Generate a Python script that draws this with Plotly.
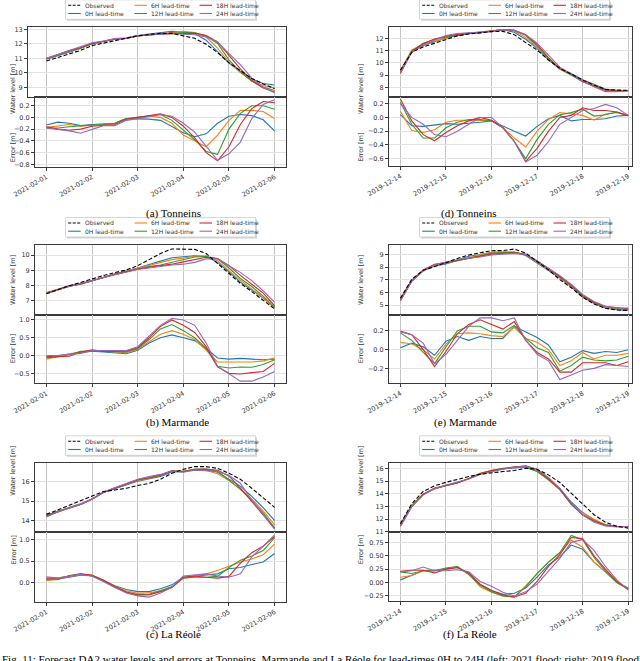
import numpy as np
import pandas as pd
import plotly.graph_objects as go

W, H = 640, 661

# 6-hourly forecast times for the two flood events
time_2021 = pd.date_range("2021-02-01", "2021-02-06", freq="6h")
time_2019 = pd.date_range("2019-12-14", "2019-12-19", freq="6h")

lead_names = ["0H lead-time", "6H lead-time", "12H lead-time", "18H lead-time", "24H lead-time"]
lead_colors = ["#1f77b4", "#ff7f0e", "#2ca02c", "#d62728", "#9467bd"]

# (a) Tonneins 2021
obs_a = [10.82, 11.08, 11.32, 11.55, 11.88, 12.05, 12.22, 12.36, 12.55, 12.65, 12.72,
         12.72, 12.56, 12.38, 11.97, 11.40, 10.70, 10.15, 9.62, 9.23, 8.93]
err_a = [
    [-0.13, -0.08, -0.10, -0.14, -0.12, -0.11, -0.10, -0.02, -0.02, -0.03, -0.05, -0.15, -0.26, -0.33, -0.28, -0.10, 0.02, 0.05, 0.03, -0.04, -0.23],
    [-0.17, -0.15, -0.12, -0.15, -0.14, -0.12, -0.10, -0.03, 0.00, 0.02, 0.00, -0.10, -0.30, -0.40, -0.50, -0.30, -0.05, 0.12, 0.12, 0.10, -0.02],
    [-0.18, -0.18, -0.16, -0.14, -0.13, -0.12, -0.10, -0.02, 0.00, 0.03, 0.05, -0.05, -0.22, -0.38, -0.58, -0.63, -0.20, 0.07, 0.20, 0.20, 0.14],
    [-0.16, -0.20, -0.22, -0.20, -0.15, -0.13, -0.12, -0.03, 0.00, 0.04, 0.06, 0.00, -0.15, -0.35, -0.60, -0.74, -0.50, -0.12, 0.15, 0.27, 0.25],
    [-0.18, -0.20, -0.23, -0.27, -0.20, -0.14, -0.14, -0.05, -0.02, 0.02, 0.05, 0.02, -0.10, -0.25, -0.50, -0.73, -0.62, -0.42, -0.02, 0.22, 0.30],
]

# (b) Marmande 2021
obs_b = [7.45, 7.72, 7.98, 8.20, 8.45, 8.65, 8.85, 9.02, 9.30, 9.70, 10.10,
         10.40, 10.40, 10.37, 10.10, 9.45, 8.80, 8.14, 7.60, 7.05, 6.46]
err_b = [
    [-0.04, 0.00, 0.04, 0.10, 0.12, 0.10, 0.08, 0.05, 0.15, 0.35, 0.50, 0.58, 0.50, 0.42, 0.20, -0.07, -0.10, -0.08, -0.10, -0.12, -0.10],
    [-0.10, -0.02, 0.05, 0.10, 0.14, 0.12, 0.10, 0.08, 0.18, 0.40, 0.60, 0.70, 0.60, 0.45, 0.15, -0.18, -0.18, -0.20, -0.18, -0.15, -0.07],
    [-0.06, -0.04, 0.02, 0.12, 0.12, 0.12, 0.12, 0.10, 0.20, 0.45, 0.75, 0.87, 0.70, 0.50, 0.20, -0.30, -0.35, -0.32, -0.33, -0.25, -0.12],
    [-0.04, -0.03, -0.02, 0.10, 0.16, 0.12, 0.12, 0.12, 0.22, 0.50, 0.82, 1.00, 0.85, 0.65, 0.25, -0.32, -0.50, -0.52, -0.48, -0.45, -0.22],
    [0.00, 0.00, 0.03, 0.06, 0.14, 0.14, 0.14, 0.14, 0.25, 0.55, 0.85, 1.05, 1.00, 0.85, 0.35, -0.30, -0.50, -0.72, -0.72, -0.60, -0.45],
]

# (c) La Réole 2021
obs_c = [14.32, 14.55, 14.80, 15.03, 15.26, 15.49, 15.57, 15.66, 15.80, 15.91, 16.12,
         16.43, 16.63, 16.77, 16.77, 16.68, 16.43, 16.12, 15.66, 15.15, 14.68]
err_c = [
    [0.08, 0.08, 0.12, 0.17, 0.15, 0.05, -0.08, -0.17, -0.22, -0.22, -0.15, -0.06, 0.12, 0.15, 0.17, 0.20, 0.32, 0.35, 0.42, 0.48, 0.68],
    [0.04, 0.08, 0.14, 0.18, 0.16, 0.05, -0.10, -0.20, -0.26, -0.25, -0.20, -0.12, 0.10, 0.15, 0.20, 0.28, 0.38, 0.48, 0.55, 0.65, 0.90],
    [0.06, 0.06, 0.16, 0.20, 0.15, 0.03, -0.12, -0.23, -0.29, -0.28, -0.20, -0.10, 0.10, 0.12, 0.12, 0.14, 0.35, 0.52, 0.62, 0.75, 1.05],
    [0.10, 0.10, 0.15, 0.20, 0.17, 0.05, -0.10, -0.23, -0.30, -0.30, -0.22, -0.12, 0.12, 0.15, 0.12, 0.10, 0.14, 0.45, 0.70, 0.85, 1.08],
    [0.13, 0.10, 0.15, 0.19, 0.15, 0.02, -0.12, -0.25, -0.32, -0.35, -0.25, -0.12, 0.15, 0.18, 0.20, 0.15, 0.12, 0.20, 0.60, 0.85, 1.12],
]

# (d) Tonneins 2019
obs_d = [9.41, 10.86, 11.30, 11.60, 11.95, 12.20, 12.35, 12.45, 12.55, 12.57, 12.30,
         11.65, 11.05, 10.23, 9.55, 9.09, 8.60, 8.19, 7.84, 7.78, 7.76]
err_d = [
    [0.04, -0.12, -0.13, -0.11, -0.09, -0.10, -0.09, -0.07, -0.05, -0.13, -0.20, -0.27, -0.13, -0.02, 0.03, -0.05, -0.03, -0.03, -0.02, 0.02, 0.03],
    [0.09, -0.19, -0.22, -0.18, -0.07, -0.04, -0.04, -0.04, -0.05, -0.15, -0.30, -0.43, -0.20, -0.03, 0.07, 0.05, 0.03, -0.04, 0.05, 0.07, 0.03],
    [0.22, -0.10, -0.30, -0.30, -0.15, -0.07, -0.03, -0.03, -0.05, -0.15, -0.35, -0.60, -0.32, -0.10, 0.04, 0.07, 0.12, 0.02, 0.04, 0.08, 0.03],
    [0.27, -0.05, -0.25, -0.34, -0.22, -0.12, -0.05, 0.00, -0.04, -0.15, -0.35, -0.64, -0.45, -0.20, 0.00, 0.03, 0.14, 0.10, 0.10, 0.08, 0.02],
    [0.20, 0.00, -0.10, -0.25, -0.28, -0.20, -0.10, 0.00, 0.00, -0.15, -0.35, -0.65, -0.55, -0.35, -0.10, 0.00, 0.10, 0.13, 0.19, 0.14, 0.03],
]

# (e) Marmande 2019
obs_e = [5.53, 7.03, 7.74, 8.03, 8.34, 8.68, 8.95, 9.13, 9.29, 9.30, 9.42,
         9.10, 8.45, 7.78, 7.00, 6.36, 5.62, 5.08, 4.74, 4.60, 4.57]
err_e = [
    [0.02, 0.07, 0.03, -0.06, 0.09, 0.14, 0.10, 0.14, 0.12, 0.12, 0.25, 0.19, 0.13, 0.05, -0.13, -0.08, -0.01, -0.04, -0.02, -0.03, 0.00],
    [0.08, 0.06, 0.00, -0.10, 0.06, 0.17, 0.18, 0.17, 0.15, 0.14, 0.24, 0.12, 0.08, 0.00, -0.17, -0.12, -0.03, -0.10, -0.06, -0.06, -0.04],
    [0.18, 0.10, -0.03, -0.15, 0.03, 0.20, 0.25, 0.25, 0.19, 0.18, 0.26, 0.12, 0.02, -0.03, -0.23, -0.17, -0.08, -0.11, -0.12, -0.11, -0.07],
    [0.20, 0.16, 0.00, -0.18, -0.02, 0.17, 0.27, 0.32, 0.27, 0.22, 0.30, 0.10, -0.03, -0.10, -0.24, -0.24, -0.14, -0.14, -0.14, -0.17, -0.13],
    [0.19, 0.16, 0.07, -0.15, -0.05, 0.10, 0.25, 0.34, 0.34, 0.31, 0.34, 0.10, -0.05, -0.12, -0.32, -0.27, -0.22, -0.20, -0.16, -0.17, -0.18],
]

# (f) La Réole 2019
obs_f = [11.65, 13.21, 14.18, 14.62, 14.90, 15.14, 15.35, 15.53, 15.66, 15.74, 15.82,
         16.00, 15.92, 15.48, 14.88, 14.05, 13.14, 12.35, 11.76, 11.44, 11.30]
err_f = [
    [0.05, 0.14, 0.22, 0.22, 0.25, 0.28, 0.18, -0.04, -0.15, -0.22, -0.20, -0.10, 0.10, 0.33, 0.48, 0.70, 0.62, 0.38, 0.20, 0.01, -0.10],
    [0.10, 0.13, 0.22, 0.24, 0.25, 0.30, 0.16, -0.08, -0.18, -0.25, -0.27, -0.06, 0.16, 0.38, 0.55, 0.79, 0.66, 0.38, 0.20, 0.00, -0.12],
    [0.20, 0.17, 0.22, 0.22, 0.27, 0.30, 0.15, -0.05, -0.17, -0.25, -0.27, -0.08, 0.17, 0.38, 0.56, 0.88, 0.80, 0.47, 0.22, 0.00, -0.12],
    [0.21, 0.23, 0.23, 0.18, 0.25, 0.28, 0.18, -0.03, -0.15, -0.23, -0.27, -0.20, 0.02, 0.30, 0.52, 0.84, 0.82, 0.50, 0.25, 0.02, -0.13],
    [0.20, 0.22, 0.29, 0.22, 0.22, 0.24, 0.20, 0.02, -0.07, -0.18, -0.25, -0.17, -0.03, 0.20, 0.45, 0.75, 0.80, 0.60, 0.30, 0.05, -0.14],
]


def px(x):
    return x / W


def py(y):
    return 1 - y / H


# column geometry (pixels) and x ranges
LEFT = dict(x0=35, x1=286, xr=["2021-01-31 18:00", "2021-02-06 06:00"], tick0="2021-02-01",
            leg=65.5, ylab=7, cap=145)
RIGHT = dict(x0=389, x1=632, xr=["2019-12-13 18:00", "2019-12-19 02:00"], tick0="2019-12-14",
             leg=419.5, ylab=361, cap=498)

panels = [
    dict(cap="(a) Tonneins", t=time_2021, obs=obs_a, err=err_a, col=LEFT, top=27.3, mid=96.7, bot=166.7,
         wl=[8.36, 13.14], wl_dt=1, er=[-0.84, 0.353], er_dt=0.2, er_fmt=".1f", cap_y=206,
         up_x0=28, up_xr0="2021-01-31 14:20"),
    dict(cap="(d) Tonneins", t=time_2019, obs=obs_d, err=err_d, col=RIGHT, top=27.3, mid=96.7, bot=166,
         wl=[7.24, 12.9], wl_dt=1, er=[-0.707, 0.302], er_dt=0.2, er_fmt=".1f", cap_y=206),
    dict(cap="(b) Marmande", t=time_2021, obs=obs_b, err=err_b, col=LEFT, top=245, mid=315, bot=383.3,
         wl=[6.06, 10.66], wl_dt=1, er=[-0.78, 1.14], er_dt=0.5, er_fmt=".1f", cap_y=422),
    dict(cap="(e) Marmande", t=time_2019, obs=obs_e, err=err_e, col=RIGHT, top=245, mid=315, bot=383.3,
         wl=[4.21, 9.74], wl_dt=1, er=[-0.36, 0.371], er_dt=0.2, er_fmt=".1f", cap_y=422),
    dict(cap="(c) La Réole", t=time_2021, obs=obs_c, err=err_c, col=LEFT, top=463.3, mid=532.3, bot=601.7,
         wl=[13.4, 16.94], wl_dt=1, er=[-0.457, 1.18], er_dt=0.5, er_fmt=".1f", cap_y=642),
    dict(cap="(f) La Réole", t=time_2019, obs=obs_f, err=err_f, col=RIGHT, top=463.3, mid=532.3, bot=601,
         wl=[10.97, 16.39], wl_dt=1, er=[-0.344, 0.9375], er_dt=0.25, er_fmt=".2f", cap_y=642),
]

TICK_FONT = dict(family="DejaVu Sans", size=6.5, color="#333333")
AX = dict(showline=True, linecolor="#3a3a3a", linewidth=1, mirror=True, zeroline=False,
          automargin=False, tickfont=TICK_FONT, tickcolor="#3a3a3a")

fig = go.Figure()
layout_axes = {}
shapes = []
annotations = []

for k, p in enumerate(panels):
    col = p["col"]
    nu, nl = 2 * k + 1, 2 * k + 2
    xu = "x" if nu == 1 else f"x{nu}"
    yu = "y" if nu == 1 else f"y{nu}"
    xl, yl = f"x{nl}", f"y{nl}"
    obs = np.array(p["obs"])

    # water level (top): forecast = observed - error
    for name, color, e in zip(lead_names, lead_colors, p["err"]):
        fig.add_trace(go.Scatter(x=p["t"], y=obs - np.array(e), mode="lines", name=name,
                                 line=dict(color=color, width=1.1), xaxis=xu, yaxis=yu,
                                 showlegend=False))
    fig.add_trace(go.Scatter(x=p["t"], y=obs, mode="lines", name="Observed",
                             line=dict(color="black", width=1.1, dash="4px,2px"),
                             xaxis=xu, yaxis=yu, showlegend=False))
    # error (bottom)
    for name, color, e in zip(lead_names, lead_colors, p["err"]):
        fig.add_trace(go.Scatter(x=p["t"], y=e, mode="lines", name=name,
                                 line=dict(color=color, width=1.1), xaxis=xl, yaxis=yl,
                                 showlegend=False))

    up_x0 = p.get("up_x0", col["x0"])
    up_xr = [p.get("up_xr0", col["xr"][0]), col["xr"][1]]
    xgrid = dict(type="date", showgrid=True, gridcolor="#c4c4c4", gridwidth=0.8,
                 dtick=86400000, tick0=col["tick0"])
    layout_axes["xaxis" if nu == 1 else f"xaxis{nu}"] = dict(
        AX, **xgrid, domain=[px(up_x0), px(col["x1"])], range=up_xr, anchor=yu,
        showticklabels=False, ticks="")
    layout_axes[f"xaxis{nl}"] = dict(
        AX, **xgrid, domain=[px(col["x0"]), px(col["x1"])], range=col["xr"], anchor=yl,
        tickformat="%Y-%m-%d", tickangle=-30, ticks="outside", ticklen=3)
    ygrid = dict(showgrid=True, gridcolor="#e2e2e2", gridwidth=0.8, ticks="outside", ticklen=3, tick0=0)
    layout_axes["yaxis" if nu == 1 else f"yaxis{nu}"] = dict(
        AX, **ygrid, domain=[py(p["mid"]), py(p["top"])], range=p["wl"], dtick=p["wl_dt"], anchor=xu)
    layout_axes[f"yaxis{nl}"] = dict(
        AX, **ygrid, domain=[py(p["bot"]), py(p["mid"])], range=p["er"], dtick=p["er_dt"],
        tickformat=p["er_fmt"], anchor=xl)

    # y axis titles
    for label, ya, yb in [("Water level [m]", p["top"], p["mid"]), ("Error [m]", p["mid"], p["bot"])]:
        annotations.append(dict(x=px(col["ylab"]), y=py((ya + yb) / 2), xref="paper", yref="paper",
                                text=label, textangle=-90, showarrow=False,
                                font=dict(family="DejaVu Sans", size=6.5, color="#333333")))

    # sub-caption
    annotations.append(dict(x=px(col["cap"]), y=py(p["cap_y"]), xref="paper", yref="paper",
                            text=p["cap"], showarrow=False, borderpad=0,
                            font=dict(family="Liberation Serif", size=11, color="black")))

    # legend box (matplotlib style, 3 columns)
    lx, lt = col["leg"], p["top"] - 27.5
    shapes.append(dict(type="rect", xref="paper", yref="paper", x0=px(lx + 1.5), x1=px(lx + 191.5),
                       y0=py(lt + 21), y1=py(lt + 1.5), fillcolor="#d4d4d4", line=dict(width=0),
                       layer="above"))
    shapes.append(dict(type="rect", xref="paper", yref="paper", x0=px(lx), x1=px(lx + 190),
                       y0=py(lt + 19.5), y1=py(lt), fillcolor="white",
                       line=dict(color="#cccccc", width=0.8), layer="above"))
    entries = [("Observed", "black", "dash"), (lead_names[0], lead_colors[0], "solid"),
               (lead_names[1], lead_colors[1], "solid"), (lead_names[2], lead_colors[2], "solid"),
               (lead_names[3], lead_colors[3], "solid"), (lead_names[4], lead_colors[4], "solid")]
    col_off = [2.7, 69, 134]
    for i, (name, color, dash) in enumerate(entries):
        cx = lx + col_off[i // 2]
        cy = lt + (5.5 if i % 2 == 0 else 13.7)
        shapes.append(dict(type="line", xref="paper", yref="paper", x0=px(cx), x1=px(cx + 12.5),
                           y0=py(cy), y1=py(cy), layer="above",
                           line=dict(color=color, width=1.1, dash="3px,1.5px" if dash == "dash" else "solid")))
        annotations.append(dict(x=px(cx + 15.5), y=py(cy), xref="paper", yref="paper", text=name,
                                xanchor="left", yanchor="middle", showarrow=False, borderpad=0,
                                font=dict(family="DejaVu Sans", size=6, color="#333333")))

annotations.append(dict(x=0, y=py(651), xref="paper", yref="paper", xanchor="left", yanchor="top",
                        text="Fig. 11: Forecast DA2 water levels and errors at Tonneins, Marmande and La Réole "
                             "for lead-times 0H to 24H (left: 2021 flood; right: 2019 flood)",
                        showarrow=False, font=dict(family="Liberation Serif", size=11, color="black")))

fig.update_layout(
    width=W, height=H, template="none",
    margin=dict(l=0, r=0, t=0, b=0),
    paper_bgcolor="white", plot_bgcolor="white",
    showlegend=False,
    shapes=shapes, annotations=annotations,
    **layout_axes,
)

# drop the default page margin so the 640x661 figure fills the window exactly
fig.write_html("out.html", config={"displayModeBar": False},
               post_script="document.body.style.margin='0';document.body.style.overflow='hidden';")
